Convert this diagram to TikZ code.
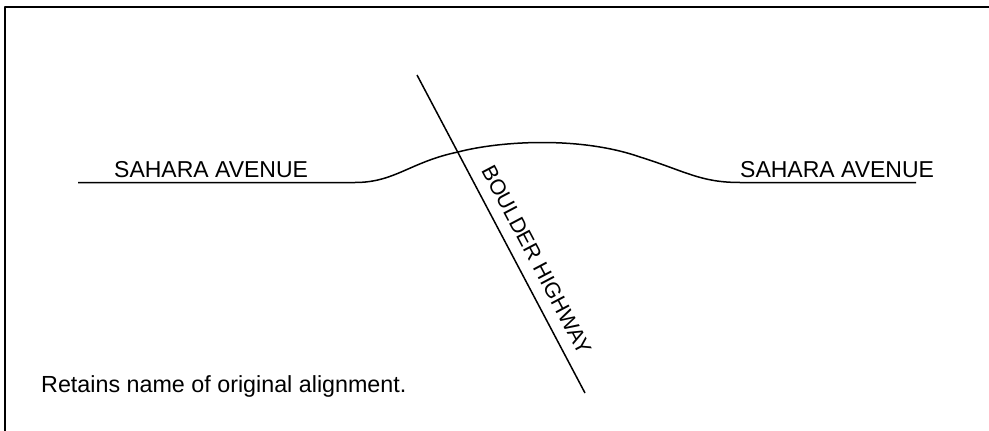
\documentclass[tikz,border=0pt]{standalone}
\usepackage{fontspec}
\setmainfont{Liberation Sans}
\begin{document}
\begin{tikzpicture}[x=1pt,y=-1pt,line join=round]
  \path[clip] (0,0) rectangle (989,431);
  \useasboundingbox (0,0) rectangle (989,431);
  \draw[line width=2pt] (5,7) rectangle (1000,445);

  \coordinate (westend) at (78,182.5);
  \coordinate (westbend) at (355,182.5);
  \coordinate (cross) at (458,152);
  \coordinate (eastbend) at (740,182.5);
  \coordinate (eastend) at (916,182.5);
  \coordinate (north) at (417,75);
  \coordinate (south) at (585,393);

  \draw[line width=1.5pt] (westend) -- (westbend)
    .. controls (395,182.5) and (410,162) .. (cross)
    .. controls (500,141) and (580,136) .. (640,157)
    .. controls (685,171) and (700,182.5) .. (eastbend) -- (eastend);
  \draw[line width=1.5pt] (north) -- node[pos=0.61,sloped,above=11pt,inner sep=0pt,font=\fontsize{21.5}{25}\selectfont] (boulder) {BOULDER HIGHWAY} (south);

  \node[anchor=base west,inner sep=0pt,font=\fontsize{23}{27}\selectfont] (sahwest) at (114,177.3) {SAHARA AVENUE};
  \node[anchor=base west,inner sep=0pt,font=\fontsize{23}{27}\selectfont] (saheast) at (740,177.3) {SAHARA AVENUE};
  \node[anchor=base west,inner sep=0pt,font=\fontsize{23.3}{27}\selectfont] (note) at (41,392) {Retains name of original alignment.};
\end{tikzpicture}
\end{document}
